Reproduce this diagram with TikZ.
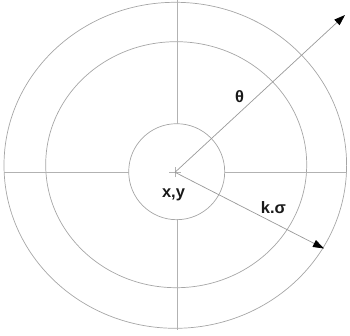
\documentclass[tikz,border=0pt]{standalone}
\usepackage{fontspec}
\setmainfont{Liberation Sans}
\usetikzlibrary{arrows.meta}
\begin{document}
\begin{tikzpicture}[x=1pt,y=-1pt,
  ring/.style={draw=black!35, line width=0.7pt},
  axis/.style={draw=black!30, line width=0.7pt},
  ray/.style={draw=black!40, line width=0.7pt, -{Triangle[length=11pt,width=7.5pt,color=black]}},
  lbl/.style={font=\fontsize{16.5}{20}\selectfont\bfseries, inner sep=0pt, text=black!90}]
\useasboundingbox (0,0) rectangle (350,336);
\coordinate (c) at (175,172.3);
\coordinate (o) at (175.3,165.3);
\coordinate (m) at (176.2,164.7);
\coordinate (i) at (176.7,171.7);
% rings
\draw[ring] (o) ellipse [x radius=171.3, y radius=163];
\draw[ring] (m) ellipse [x radius=130.5, y radius=123];
\draw[ring] (i) circle [radius=48];
% axes
\coordinate (hl1) at (4,172.3);
\coordinate (hl2) at (128.5,172.3);
\coordinate (hr1) at (225,172.3);
\coordinate (hr2) at (346.6,172.3);
\coordinate (vt1) at (177.5,0);
\coordinate (vt2) at (177.5,124);
\coordinate (vb1) at (177.5,219.5);
\coordinate (vb2) at (177.5,330);
\draw[axis] (hl1) -- (hl2);
\draw[axis] (hr1) -- (hr2);
\draw[axis] (vt1) -- (vt2);
\draw[axis] (vb1) -- (vb2);
% centre cross
\draw[axis] ([xshift=-6]c) -- ([xshift=6]c);
\draw[axis] ([yshift=-5]c) -- ([yshift=5]c);
% rays
\coordinate (t1) at (345,15);
\coordinate (t2) at (324,248.5);
\draw[ray] (c) -- (t1);
\draw[ray] (c) -- (t2);
% labels
\node[lbl] (th) at (239.5,97) {θ};
\node[lbl] (xy) at (173.5,195) {x,y};
\node[lbl] (ks) at (273.5,208) {k.σ};
\end{tikzpicture}
\end{document}
